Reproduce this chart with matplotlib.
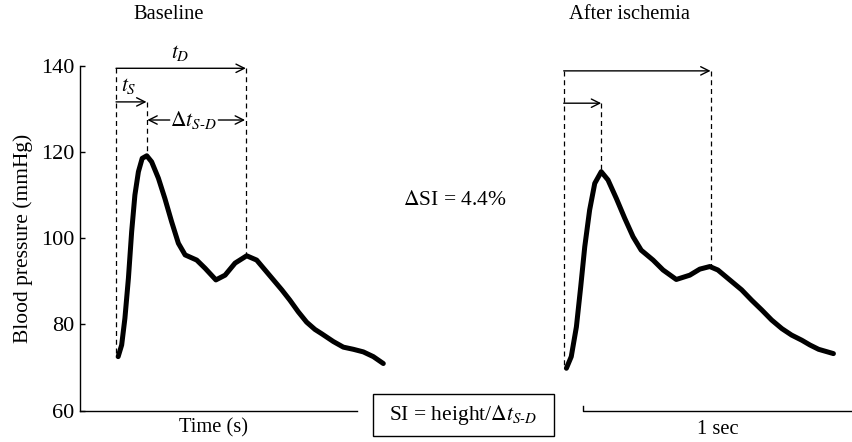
import numpy as np
import matplotlib
matplotlib.use("Agg")
import matplotlib.pyplot as plt
from matplotlib.patches import Rectangle

plt.rcParams["font.family"] = ["Liberation Serif", "DejaVu Serif"]
plt.rcParams["mathtext.fontset"] = "stix"

# ==========================
# DATA (time from start of beat in s, pressure in mmHg)
# ==========================
base_t = [0.008, 0.021, 0.033, 0.046, 0.058, 0.070, 0.083, 0.097, 0.114, 0.132,
          0.157, 0.181, 0.206, 0.231, 0.256, 0.299, 0.330, 0.370, 0.404, 0.441,
          0.484, 0.521, 0.583, 0.614, 0.644, 0.675, 0.706, 0.737, 0.762, 0.805,
          0.842, 0.879, 0.916, 0.953, 0.990]
base_p = [72.5, 75.2, 81.4, 90.7, 101.5, 110.0, 115.4, 118.5, 119.1, 117.7,
          113.9, 109.2, 103.8, 98.8, 96.1, 94.9, 93.0, 90.3, 91.4, 94.2,
          95.9, 94.9, 90.3, 88.0, 85.6, 82.9, 80.5, 78.8, 77.8, 76.0,
          74.7, 74.2, 73.6, 72.5, 70.9]

isch_t = [0.010, 0.028, 0.047, 0.063, 0.078, 0.096, 0.115, 0.139, 0.164, 0.195,
          0.226, 0.257, 0.287, 0.331, 0.368, 0.417, 0.467, 0.504, 0.541, 0.571,
          0.659, 0.696, 0.734, 0.770, 0.808, 0.844, 0.882, 0.912, 0.944, 0.999]
isch_p = [69.8, 72.5, 79.4, 88.7, 98.0, 106.5, 112.7, 115.4, 113.5, 109.2,
          104.6, 100.3, 97.2, 94.9, 92.6, 90.4, 91.4, 92.8, 93.4, 92.6,
          88.0, 85.6, 83.3, 81.0, 79.0, 77.5, 76.3, 75.2, 74.2, 73.2]

# systolic / diastolic peak times
ts_base, td_base = 0.113, 0.481
ts_isch, td_isch = 0.139, 0.544

delta_si = "4.4%"
yticks = [60, 80, 100, 120, 140]

# ==========================
# LAYOUT
# ==========================
px_per_sec = 270.0
x0_base = (116 - 79.7) / px_per_sec
x0_isch = (563.7 - 79.7) / px_per_sec

fig = plt.figure(figsize=(8.52, 4.42), dpi=100)
ax = fig.add_axes([79.7 / 852, 31.5 / 442, (852 - 79.7) / 852, 344.8 / 442])
ax.set_xlim(0, (852 - 79.7) / px_per_sec)
ax.set_ylim(60, 140)

for s in ["top", "right"]:
    ax.spines[s].set_visible(False)
ax.spines["bottom"].set_bounds(0, (356.7 - 79.7) / px_per_sec)
ax.spines["left"].set_linewidth(1.0)
ax.spines["bottom"].set_linewidth(1.0)
ax.set_xticks([])
ax.set_yticks(yticks)
ax.tick_params(axis="y", direction="in", length=3.5, width=1.0, pad=4, labelsize=16)
ax.set_ylabel("Blood pressure (mmHg)", fontsize=15.5)
ax.yaxis.set_label_coords((33 - 79.7) / 772.3, 0.5)

fs = 14.8
dash = (0, (4, 3))

# ==========================
# CURVES
# ==========================
ax.plot(x0_base + np.array(base_t), base_p, color="black", lw=3.6,
        solid_joinstyle="round", solid_capstyle="round", clip_on=False)
ax.plot(x0_isch + np.array(isch_t), isch_p, color="black", lw=3.6,
        solid_joinstyle="round", solid_capstyle="round", clip_on=False)


def annotate_beat(x0, t, p, ts, td, top_y, ts_y, show_labels):
    p_peak = np.interp(ts, t, p)
    p_dia = np.interp(td, t, p)
    # dashed guides
    ax.plot([x0, x0], [top_y, p[0]], color="black", lw=0.9, ls=dash, clip_on=False)
    ax.plot([x0 + ts, x0 + ts], [ts_y, p_peak], color="black", lw=0.9, ls=dash, clip_on=False)
    ax.plot([x0 + td, x0 + td], [top_y, p_dia], color="black", lw=0.9, ls=dash, clip_on=False)
    arrow = dict(arrowstyle="->", lw=1.0, shrinkA=0, shrinkB=0, mutation_scale=15)
    ax.annotate("", xy=(x0 + td, top_y), xytext=(x0, top_y), arrowprops=arrow,
                annotation_clip=False)
    ax.annotate("", xy=(x0 + ts, ts_y), xytext=(x0, ts_y), arrowprops=arrow,
                annotation_clip=False)
    if show_labels:
        ax.text(x0 + 0.237, top_y + 3.6, r"$t_D$", fontsize=15.5,
                ha="center", va="center", clip_on=False)
        ax.text(x0 + 0.049, ts_y + 3.6, r"$t_S$", fontsize=15.5,
                ha="center", va="center", clip_on=False)
        dy = ts_y - 4.2
        mid = x0 + 0.287
        ax.annotate("", xy=(x0 + ts + 0.003, dy), xytext=(mid - 0.088, dy),
                    arrowprops=arrow, annotation_clip=False)
        ax.annotate("", xy=(x0 + td - 0.003, dy), xytext=(mid + 0.092, dy),
                    arrowprops=arrow, annotation_clip=False)
        ax.text(mid, dy, r"$\Delta t_{S\text{-}D}$", fontsize=15.5,
                ha="center", va="center", clip_on=False)


annotate_beat(x0_base, base_t, base_p, ts_base, td_base, 139.4, 131.6, True)
annotate_beat(x0_isch, isch_t, isch_p, ts_isch, td_isch, 138.8, 131.3, False)

# ==========================
# TEXT
# ==========================
ax.text(0.331, 151.8, "Baseline", fontsize=fs, ha="center", va="center", clip_on=False)
ax.text(2.035, 151.8, "After ischemia", fontsize=fs, ha="center", va="center", clip_on=False)
ax.text(0.494, 55.9, "Time (s)", fontsize=fs, ha="center", va="center", clip_on=False)
ax.text(1.390, 108.8, r"$\Delta$SI = " + delta_si, fontsize=15.5, ha="center", va="center")

ax.add_patch(Rectangle((1.086, 54.1), 0.671, 9.7, fill=False, lw=1.0,
                       edgecolor="black", clip_on=False))
ax.text(1.42, 59.0, r"SI = height/$\Delta t_{S\text{-}D}$", fontsize=15.5,
        ha="center", va="center", clip_on=False)

# 1 sec scale bar
bar_x = 1.863
ax.plot([bar_x, bar_x, bar_x + 1.0], [61.1, 59.85, 59.85], color="black", lw=1.0,
        clip_on=False)
ax.text(bar_x + 0.5, 55.5, "1 sec", fontsize=fs, ha="center", va="center", clip_on=False)

fig.savefig("out.png", dpi=100)
